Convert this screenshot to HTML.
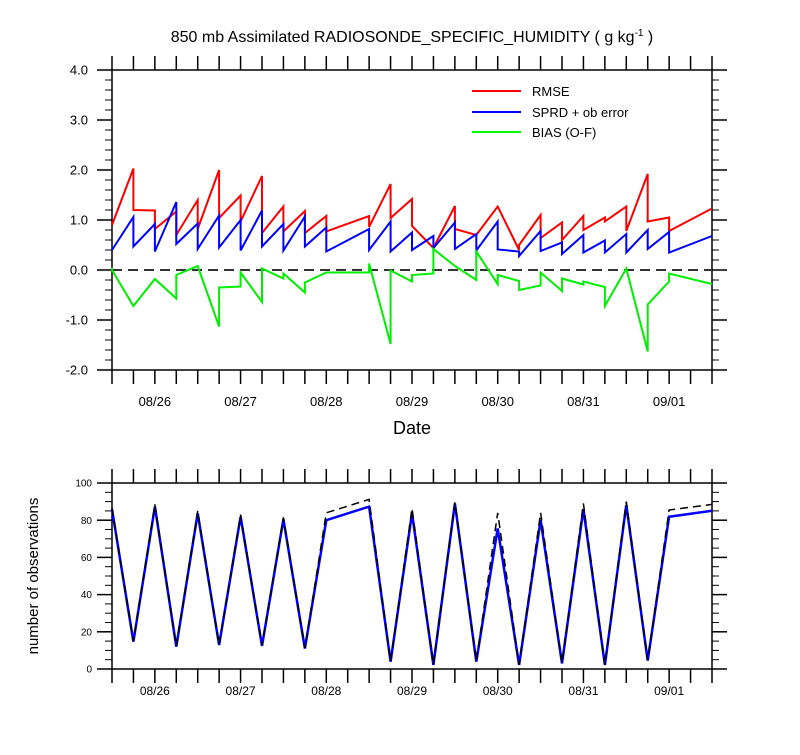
<!DOCTYPE html>
<html><head><meta charset="utf-8"><style>
html,body{margin:0;padding:0;background:#fff;}
svg text{font-family:"Liberation Sans",Arial,sans-serif;fill:#000;}
</style></head><body>
<svg id="c" width="800" height="750" viewBox="0 0 800 750" xmlns="http://www.w3.org/2000/svg">
<text x="412" y="42" font-size="16" text-anchor="middle">850 mb Assimilated RADIOSONDE_SPECIFIC_HUMIDITY ( g kg<tspan font-size="10" dy="-6">-1</tspan><tspan dy="6"> )</tspan></text>
<g id="gtop"></g><g id="gbot"></g>
<g>
<line x1="472" y1="91" x2="521" y2="91" stroke="#ff0000" stroke-width="2"/>
<text x="532" y="96" font-size="13">RMSE</text>
<line x1="472" y1="112" x2="521" y2="112" stroke="#0000ff" stroke-width="2"/>
<text x="532" y="117" font-size="13">SPRD + ob error</text>
<line x1="472" y1="132" x2="521" y2="132" stroke="#00ff00" stroke-width="2"/>
<text x="532" y="137" font-size="13">BIAS (O-F)</text>
</g>
<text x="412" y="434" font-size="18" text-anchor="middle">Date</text>
<text transform="translate(38,576) rotate(-90)" font-size="15" text-anchor="middle">number of observations</text>
</svg>
<script>
// time step index (6-hourly from 08/25 12Z)
const steps = [0,1,2,3,4,5,6,7,8,9,10,12,13,14,15,16,17,18,19,20,21,22,23,24,25,26,28];
const rmseArr = [0.9,2.03,1.19,1.17,1.4,2.0,1.49,1.88,1.27,1.18,1.08,1.08,1.72,1.42,0.44,1.28,0.7,1.27,0.4,1.1,0.95,1.08,1.05,1.27,1.92,1.05,1.23];
const rmseDep = [0.9,1.2,0.82,0.7,0.82,1.04,0.97,0.74,0.77,0.74,0.77,0.86,1.04,0.88,0.44,0.82,0.7,1.27,0.5,0.64,0.6,0.8,0.97,0.78,0.97,0.78,1.23];
const sprdArr = [0.4,1.06,0.92,1.36,0.93,1.09,1.0,1.19,0.92,1.07,0.85,0.82,0.97,0.75,0.68,0.95,0.72,0.97,0.37,0.78,0.55,0.7,0.59,0.72,0.8,0.76,0.68];
const sprdDep = [0.4,0.47,0.37,0.52,0.42,0.45,0.39,0.47,0.39,0.47,0.37,0.4,0.37,0.4,0.44,0.42,0.39,0.41,0.28,0.38,0.32,0.35,0.35,0.35,0.42,0.35,0.68];
const biasArr = [0.05,-0.72,-0.18,-0.57,0.08,-1.13,-0.33,-0.64,-0.17,-0.45,-0.05,-0.05,-1.48,-0.23,-0.07,0.08,-0.2,-0.28,-0.22,-0.31,-0.42,-0.29,-0.34,0.03,-1.63,-0.23,-0.28];
const biasDep = [0.0,-0.72,-0.18,-0.1,0.08,-0.35,-0.05,0.03,-0.07,-0.25,-0.05,0.13,-0.01,-0.1,0.42,0.08,0.37,-0.1,-0.4,-0.05,-0.17,-0.23,-0.72,0.03,-0.69,-0.07,-0.28];
const obsAssim = [85.9,14.7,87.3,12,83.7,12.9,81.9,12.4,80.5,11,80,87.3,3.9,83.7,2.2,89,3.9,75.6,2.2,80,3,85.9,2.2,88.2,4.5,81.9,85.1];
const obsTotal = [86.5,15,88.5,12.3,85,13.2,83,12.7,81.5,11.3,84,91.2,4.2,86.4,2.4,89.6,4.2,84,2.4,84,3.2,89,2.4,90,4.8,85.5,88.5];
const yTicksTop = [4,3,2,1,0,-1,-2];
const yTicksBot = [0,20,40,60,80,100];
const dateLabels = ["08/26","08/27","08/28","08/29","08/30","08/31","09/01"];
const dateSteps = [2,6,10,14,18,22,26];

const NS="http://www.w3.org/2000/svg";
const X0=112,X1=712,NSTEP=28;
const sx=k=>X0+(X1-X0)*k/NSTEP;
const syT=v=>270-v*50;
const syB=v=>669-v*1.86;
function mk(parent,tag,attrs){const e=document.createElementNS(NS,tag);for(const k in attrs)e.setAttribute(k,attrs[k]);parent.appendChild(e);return e;}
const gTop=document.getElementById('gtop'),gBot=document.getElementById('gbot');

function frame(g,y0,y1,nm){
  const r=mk(g,'rect',{x:X0,y:y0,width:X1-X0,height:y1-y0,fill:'none',stroke:'#000','stroke-width':1.5});
  
  
  for(let k=0;k<=NSTEP;k++){
    const x=sx(k);
    const t1=mk(g,'line',{x1:x,x2:x,y1:y0-14,y2:y0,stroke:'#000','stroke-width':1.5});
    
    
    const t2=mk(g,'line',{x1:x,x2:x,y1:y1,y2:y1+14,stroke:'#000','stroke-width':1.5});
    
    
  }
  dateLabels.forEach((d,i)=>{
    const t=mk(g,'text',{x:sx(dateSteps[i]),y:y1+(nm==='top'?36:26),'font-size':nm==='top'?13:12,'text-anchor':'middle'});
    t.textContent=d;
    
    
  });
}
function yticks(g,vals,minStep,sy,lo,hi,fs,fmt,dx){
  for(let v=lo;v<=hi+1e-9;v+=minStep){
    const y=sy(v);
    [[X0-7,X0],[X1,X1+7]].forEach(([a,b])=>{
      const l=mk(g,'line',{x1:a,x2:b,y1:y,y2:y,stroke:'#000','stroke-width':1});
      
      
    });
  }
  vals.forEach(v=>{
    const y=sy(v);
    [[X0-15,X0],[X1,X1+15]].forEach(([a,b])=>{
      const l=mk(g,'line',{x1:a,x2:b,y1:y,y2:y,stroke:'#000','stroke-width':1.5});
      
      
    });
    const t=mk(g,'text',{x:X0-dx,y:y+fs*0.36,'font-size':fs,'text-anchor':'end'});
    t.textContent=fmt(v);
    
    
  });
}
frame(gTop,70,370,'top');
yticks(gTop,yTicksTop,0.2,syT,-2,4,13,v=>v.toFixed(1),24);
frame(gBot,483,669,'bottom');
yticks(gBot,yTicksBot,5,syB,0,100,10,v=>String(v),20);

const zl=mk(gTop,'line',{x1:X0,x2:X1,y1:syT(0),y2:syT(0),stroke:'#333','stroke-width':2,'stroke-dasharray':'10,6'});



function saw(arr,dep){
  let d='';
  steps.forEach((k,i)=>{
    d+=(i?'L':'M')+sx(k).toFixed(1)+','+syT(arr[i]).toFixed(1);
    d+='L'+sx(k).toFixed(1)+','+syT(dep[i]).toFixed(1);
  });
  return d;
}
[[rmseArr,rmseDep,'#ff0000','rmse-line'],[sprdArr,sprdDep,'#0000ff','sprd-line'],[biasArr,biasDep,'#00ee00','bias-line']].forEach(([a,b,c,n])=>{
  const p=mk(gTop,'path',{d:saw(a,b),fill:'none',stroke:c,'stroke-width':2,'stroke-linejoin':'miter'});
  
  
});
function line(vals){return steps.map((k,i)=>(i?'L':'M')+sx(k).toFixed(1)+','+syB(vals[i]).toFixed(1)).join('');}
const pb=mk(gBot,'path',{d:line(obsAssim),fill:'none',stroke:'#0000ff','stroke-width':2.5});


const pk=mk(gBot,'path',{d:line(obsTotal),fill:'none',stroke:'#000','stroke-width':1.5,'stroke-dasharray':'8,5'});


</script>
</body></html>
